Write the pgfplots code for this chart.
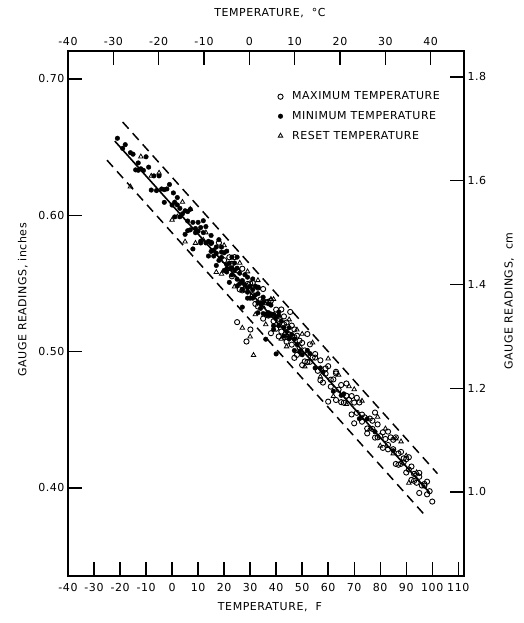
\documentclass[border=0pt]{standalone}
\usepackage{fontspec}
\setmainfont{DejaVu Sans}[LetterSpace=5]
\usepackage{pgfplots}
\pgfplotsset{compat=1.18}

\newcommand{\lbl}{\fontsize{11}{13}\selectfont}

\pgfplotsset{
  gauge/.style={
    scale only axis, width=396pt, height=525pt,
    axis line style={line width=1.8pt},
    major tick length=14pt,
    every tick/.style={black, line width=1.4pt},
    tick label style={font=\lbl},
    label style={font=\lbl},
    /pgf/number format/assume math mode=true,
    clip=false,
  }
}

\begin{document}
\begin{tikzpicture}
\begin{axis}[
  gauge, name=main,
  xmin=-40, xmax=112.2,
  ymin=0.3354, ymax=0.7205,
  xtick={-40,-30,...,110},
  ytick={0.40,0.50,0.60,0.70},
  xtick pos=bottom, ytick pos=left,
  xticklabel style={yshift=-4pt},
  yticklabel style={/pgf/number format/.cd, fixed, fixed zerofill, precision=2},
  xlabel={TEMPERATURE,\ \ F},
  ylabel={GAUGE READINGS, inches},
  xlabel style={at={(axis description cs:0.51,-0.059)}, anchor=center},
  ylabel style={at={(axis description cs:-0.114,0.526)}, anchor=center},
  legend style={at={(0.522,0.93)}, anchor=north west, draw=none, fill=none,
    font=\lbl, row sep=6pt, legend cell align=left},
]
% regression line and limits
\addplot[forget plot, black, line width=1.6pt] coordinates {(-22,0.6544) (99,0.3965)};
\addplot[forget plot, black, line width=1.5pt, dash pattern=on 9pt off 6pt] coordinates {(-19,0.6684) (102,0.4105)};
\addplot[forget plot, black, line width=1.5pt, dash pattern=on 9pt off 6pt] coordinates {(-25,0.6404) (98,0.3782)};

% maximum temperature
\addplot[only marks, mark=o, mark size=2.6pt, mark options={line width=0.9pt, black}] coordinates {
(15,0.5798) (18,0.5799) (20,0.5670) (22,0.5692) (23,0.5552) (24,0.5693) (25,0.5596)
(26,0.5456) (27,0.5608) (28,0.5456) (28.6,0.5074) (30,0.5500) (30.1,0.5162) (31,0.5414)
(32,0.5350) (33,0.5469) (34,0.5382) (35,0.5242) (36,0.5362) (37,0.5264) (38,0.5373)
(39,0.5265) (40,0.5168) (40,0.5308) (41,0.5223) (42,0.5147) (42,0.5309) (43,0.5201)
(44,0.5072) (44,0.5213) (45,0.5126) (45.4,0.5291) (46,0.5051) (46,0.5191) (47,0.5106)
(48,0.4976) (48,0.5117) (49,0.5030) (50,0.5064) (50,0.4901) (51,0.5009) (52,0.4923)
(53,0.5053) (54,0.4956) (56,0.4859) (57,0.4936) (58,0.4773) (59,0.4838) (60,0.4893)
(61,0.4743) (62,0.4796) (63,0.4645) (64,0.4721) (65,0.4755) (66,0.4625) (67,0.4766)
(68,0.4646) (69,0.4539) (70,0.4626) (71,0.4551) (72,0.4627) (73,0.4486) (74,0.4518)
(75,0.4400) (76,0.4509) (77,0.4433) (78,0.4369) (79,0.4466) (80,0.4380) (81,0.4294)
(82,0.4359) (83,0.4283) (84,0.4371) (85,0.4284) (86,0.4176) (87,0.4253) (88,0.4177)
(88,0.4264) (89,0.4188) (90,0.4113) (90,0.4211) (91,0.4135) (92,0.4059) (92,0.4157)
(93,0.4103) (94,0.4038) (95,0.4082) (96,0.4018) (97,0.4029) (98,0.3953) (99,0.3976)
(100,0.3900) (95,0.3963) (86,0.4371) (78,0.4553) (60,0.4633) (70,0.4474) (38,0.5135)
(47,0.4954) (52,0.5129) (25,0.5216) (35,0.5459) (55,0.4956) (63,0.4840) (83,0.4413)
(23,0.5644) (27,0.5449) (29,0.5496) (31,0.5504) (33,0.5331) (35,0.5369) (37,0.5366)
(39,0.5223) (41,0.5241) (41,0.5111) (43,0.5258) (43,0.5108) (45,0.5125) (47,0.5163)
(49,0.5080) (51,0.4928) (53,0.4925) (55,0.4982) (57,0.4790) (59,0.4877) (61,0.4794)
(63,0.4852) (65,0.4629) (67,0.4676) (69,0.4674) (71,0.4661) (73,0.4538) (75,0.4436)
(77,0.4493) (79,0.4371) (81,0.4408) (83,0.4315) (85,0.4353) (87,0.4170) (89,0.4217)
(91,0.4225) (93,0.4052) (95,0.4110) (97,0.4017) (98,0.4046)
};
% minimum temperature
\addplot[only marks, mark=*, mark size=2.3pt, mark options={black}] coordinates {
(-21,0.6565) (-16,0.6459) (-15,0.6448) (-13,0.6384) (-13,0.6330) (-12,0.6341) (-9,0.6353)
(-7,0.6289) (-6,0.6181) (-5,0.6289) (-4,0.6193) (-3,0.6095) (-2,0.6193) (-1,0.6226)
(0,0.6075) (1,0.6096) (1,0.5988) (2,0.6130) (3,0.5989) (4,0.6011) (5,0.6033) (5,0.5860)
(6,0.5958) (7,0.6044) (7,0.5893) (8,0.5948) (9,0.5872) (10,0.5948) (10,0.5883)
(11,0.5797) (12,0.5873) (12,0.5960) (13,0.5797) (14,0.5809) (14,0.5701) (15,0.5852)
(16,0.5744) (16,0.5701) (17,0.5767) (18,0.5669) (18,0.5821) (19,0.5691) (20,0.5595)
(20,0.5725) (21,0.5638) (22,0.5649) (22,0.5508) (23,0.5693) (23,0.5563) (24,0.5596)
(25,0.5531) (25,0.5693) (26,0.5575) (27,0.5456) (27,0.5521) (28,0.5564) (29,0.5392)
(29,0.5468) (30,0.5479) (31,0.5392) (31,0.5533) (32,0.5415) (33,0.5285) (33,0.5425)
(34,0.5350) (35,0.5362) (36,0.5275) (37,0.5351) (38,0.5276) (39,0.5189) (40,0.5254)
(41,0.5190) (42,0.5223) (43,0.5114) (44,0.5148) (45,0.5094) (46,0.5126) (47,0.5008)
(48,0.5052) (50,0.4977) (52,0.5009) (55,0.4880) (58,0.4849) (62,0.4709) (66,0.4690)
(72,0.4508) (78,0.4412) (36,0.5091) (40,0.4983) (27,0.5326) (8,0.5753) (2,0.6076)
(19,0.5767) (21,0.5584) (24,0.5650) (26,0.5499) (28,0.5488) (30,0.5392) (32,0.5480)
(34,0.5317) (37,0.5286) (38,0.5341) (41,0.5266) (-19,0.6491) (-10,0.6429)
(-18,0.6518) (-14,0.6333) (-11,0.6329) (-8,0.6185) (-3,0.6188) (0.5,0.6164) (3,0.6051)
(6,0.6027) (6,0.5887) (9,0.5903) (11,0.5910) (11,0.5810) (13,0.5917) (15,0.5735)
(15,0.5795) (17,0.5722) (17,0.5632) (19,0.5730) (21,0.5737) (21,0.5607) (23,0.5614)
(25,0.5612) (25,0.5482) (27,0.5509) (29,0.5546) (29,0.5436) (31,0.5454) (33,0.5361)
(33,0.5471) (35,0.5279) (35,0.5399) (37,0.5266) (39,0.5273) (39,0.5163) (41,0.5291)
(43,0.5178) (45,0.5175) (47,0.5093) (49,0.5000) (53,0.4985) (57,0.4880) (65,0.4679)
(75,0.4506) (85,0.4273)
};
% reset temperature
\addplot[only marks, mark=triangle, mark size=2.6pt, mark options={line width=0.8pt, black}] coordinates {
(-16,0.6210) (-5,0.6311) (0,0.5966) (4,0.6097) (9,0.5796) (13,0.5873) (17,0.5583)
(20,0.5779) (24,0.5476) (27,0.5174) (31.3,0.4974) (29,0.5587) (33,0.5523) (36,0.5199)
(39,0.5384) (42,0.5093) (45,0.5235) (48,0.5160) (51,0.4890) (54,0.5065) (57,0.4816)
(60,0.4948) (64,0.4829) (67,0.4614) (70,0.4723) (73,0.4638) (76,0.4433) (79,0.4521)
(82,0.4435) (85,0.4252) (88,0.4340) (91,0.4037) (94,0.4114) (30,0.5110) (12,0.5819)
(22,0.5605) (35,0.5329) (5,0.5806) (-8,0.6288) (2,0.5989)
(-12,0.6430) (7,0.6045) (19,0.5570) (26,0.5650) (32,0.5272) (38,0.5385) (44,0.5037)
(50,0.5129) (62,0.4673) (68,0.4745) (80,0.4309) (86,0.4361) (90,0.4236)
};
\legend{\hspace{7pt}MAXIMUM TEMPERATURE, \hspace{7pt}MINIMUM TEMPERATURE, \hspace{7pt}RESET TEMPERATURE}
\end{axis}

\begin{axis}[
  gauge,
  xmin=-40, xmax=47.35,
  ymin=0.838, ymax=1.850,
  xtick={-40,-30,...,40},
  ytick={1.0,1.2,1.4,1.6,1.8},
  xtick pos=top, ytick pos=right,
  xticklabel pos=top, yticklabel pos=right,
  xticklabel style={yshift=2pt},
  yticklabel style={/pgf/number format/.cd, fixed, fixed zerofill, precision=1},
  xlabel={TEMPERATURE,\ \ \textdegree C},
  ylabel={GAUGE READINGS,\ \ cm},
  xlabel style={at={(axis description cs:0.51,1.072)}, anchor=center},
  ylabel style={at={(axis description cs:1.114,0.524)}, anchor=center, rotate=0},
]
\addplot[draw=none, forget plot] coordinates {(0,1.0)};
\end{axis}
\path ([xshift=-68pt,yshift=-47pt]main.south west) rectangle ([xshift=59pt,yshift=51pt]main.north east);
\end{tikzpicture}
\end{document}
